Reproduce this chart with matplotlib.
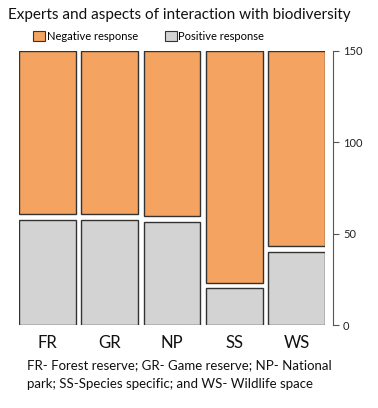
import matplotlib
matplotlib.use("Agg")
import matplotlib.pyplot as plt
from matplotlib.patches import Rectangle

categories = ["FR", "GR", "NP", "SS", "WS"]
positive = [57.5, 57.5, 56.5, 20.0, 40.0]
negative = [89.5, 89.5, 90.5, 127.0, 107.0]
gap = 3.0
yticks = [0, 50, 100, 150]
title = "Experts and aspects of interaction with biodiversity"
caption = "FR- Forest reserve; GR- Game reserve; NP- National\npark; SS-Species specific; and WS- Wildlife space"

neg_color = "#F4A460"
pos_color = "#D3D3D3"
edge = "#333333"

plt.rcParams['font.family'] = ['Lato', 'DejaVu Sans']

fig = plt.figure(figsize=(3.78, 4.08), dpi=100)
ax = fig.add_axes([19/378, 1 - 325/408, 306/378, 274/408])

x = list(range(len(categories)))
w = 0.91
ax.bar(x, positive, width=w, color=pos_color, edgecolor=edge, linewidth=1.0)
ax.bar(x, negative, width=w, bottom=[p + gap for p in positive],
       color=neg_color, edgecolor=edge, linewidth=1.0)

ax.set_xlim(-0.4555, len(categories) - 1 + 0.4555)
ax.set_ylim(0, 150)

for s in ["top", "left", "bottom"]:
    ax.spines[s].set_visible(False)
ax.spines["right"].set_position(("outward", 6))
ax.spines["right"].set_bounds(0, 150)
ax.spines["right"].set_color("#555555")
ax.yaxis.tick_right()
ax.set_yticks(yticks)
ax.set_yticklabels([str(t) for t in yticks], fontsize=8, color="#222222")
ax.tick_params(axis="y", length=4, color="#555555", pad=3)
ax.set_xticks(x)
ax.set_xticklabels(categories, fontsize=12, color="#111111")
ax.tick_params(axis="x", length=0, pad=7)

fig.text(8/378, 1 - 15/408, title, fontsize=11, va="center", ha="left", color="#111111")

# legend
lax_y = 1 - 36/408
fig.patches.append(Rectangle((33/378, 1 - 41/408), 12/378, 10/408, transform=fig.transFigure,
                             facecolor=neg_color, edgecolor=edge, linewidth=0.8))
fig.text(47/378, lax_y, "Negative response", fontsize=8, va="center", ha="left")
fig.patches.append(Rectangle((165/378, 1 - 41/408), 12/378, 10/408, transform=fig.transFigure,
                             facecolor=pos_color, edgecolor=edge, linewidth=0.8))
fig.text(178/378, lax_y, "Positive response", fontsize=8, va="center", ha="left")

fig.text(27/378, 1 - 374.5/408, caption, fontsize=9.5, va="center", ha="left",
         linespacing=1.6, color="#111111")

fig.savefig("out.png", dpi=100)
